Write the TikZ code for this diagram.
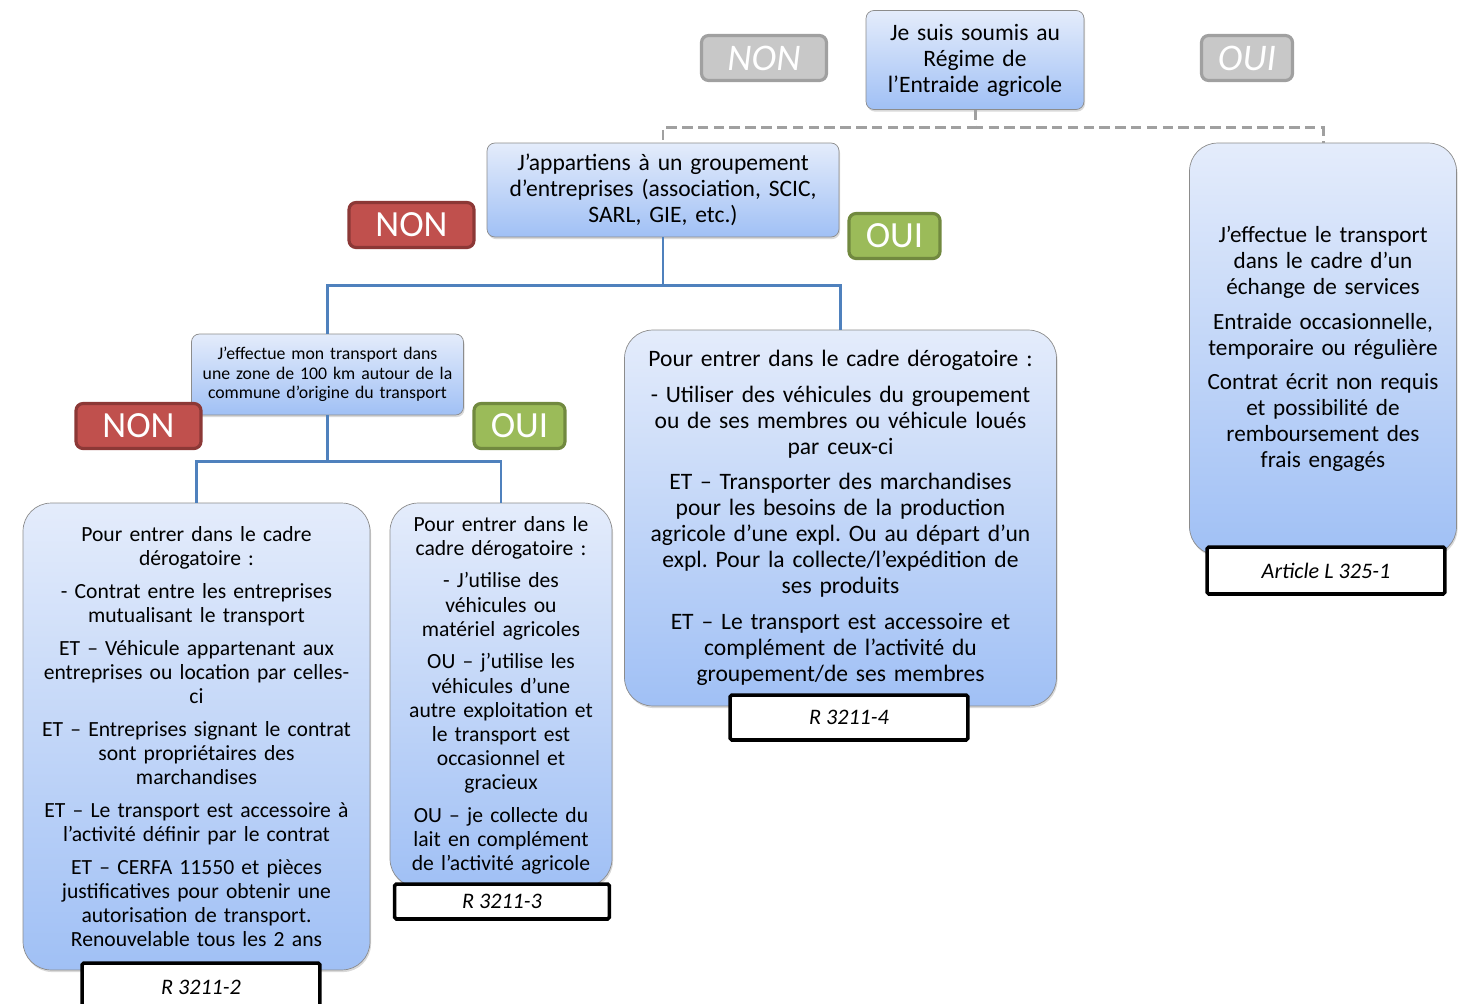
\documentclass[tikz,border=0pt]{standalone}
\usepackage{fontspec}
\setmainfont{Carlito}
\usetikzlibrary{shadows}

\definecolor{bleuhaut}{RGB}{228,236,251}
\definecolor{bleubas}{RGB}{160,192,245}
\definecolor{traitbleu}{RGB}{79,129,189}
\definecolor{rougefond}{RGB}{192,80,77}
\definecolor{rougebord}{RGB}{140,56,54}
\definecolor{vertfond}{RGB}{155,187,89}
\definecolor{vertbord}{RGB}{113,137,63}
\definecolor{grisfond}{RGB}{200,200,200}
\definecolor{grisbord}{RGB}{160,160,160}

\newcommand\grand{\fontsize{13.4}{14.8}\selectfont}
\newcommand\moyen{\fontsize{12.3}{13.7}\selectfont}
\newcommand\petit{\fontsize{10.1}{11.1}\selectfont}
\frenchspacing

\begin{document}
\begin{tikzpicture}[x=0.02cm, y=-0.02cm,
    question/.style={draw=black!45, rounded corners=4.5pt, top color=bleuhaut, bottom color=bleubas, align=center, inner sep=2pt, font=\grand,
        drop shadow={opacity=0.3, shadow xshift=0.6pt, shadow yshift=-1.2pt}},
    cadre/.style={question, rounded corners=16pt},
    reponse/.style={rounded corners=4pt, line width=1.8pt, text=white, align=center, font=\fontsize{21}{24}\selectfont, minimum height=0.9cm},
    non/.style={reponse, draw=rougebord, fill=rougefond, minimum width=2.5cm},
    oui/.style={reponse, draw=vertbord, fill=vertfond, minimum width=1.82cm},
    gris/.style={reponse, draw=grisbord, fill=grisfond, font=\fontsize{21.4}{24}\selectfont\itshape},
    article/.style={draw, line width=2pt, rounded corners=1pt, fill=white, minimum width=4.76cm, font=\fontsize{12.6}{14}\selectfont\itshape},
    lien/.style={draw=traitbleu, line width=1.7pt},
    tirets/.style={draw=grisbord, line width=1.7pt, dash pattern=on 6pt off 3pt}
]
\useasboundingbox (0,0) rectangle (1465,1004);

% questions
\node[question, minimum width=4.36cm, minimum height=1.98cm, text width=4.2cm] (regime) at (975,60)
    {Je suis soumis au\\Régime de\\l’Entraide agricole};
\node[question, minimum width=7.04cm, minimum height=1.88cm, text width=6.9cm] (groupement) at (663,190)
    {J’appartiens à un groupement\\d’entreprises (association, SCIC,\\SARL, GIE, etc.)};
\node[question, font=\petit, minimum width=5.38cm, minimum height=1.62cm, text width=5.3cm] (zone) at (327.5,374.5)
    {J’effectue mon transport dans\\une zone de 100 km autour de la\\commune d’origine du transport};

% cadres
\node[cadre, font=\moyen, minimum width=6.9cm, minimum height=9.34cm, text width=6.8cm] (mutuel) at (196.5,736.5)
    {Pour entrer dans le cadre\\dérogatoire :\\[5pt]
     - Contrat entre les entreprises\\mutualisant le transport\\[5pt]
     ET – Véhicule appartenant aux\\entreprises ou location par celles-\\ci\\[5pt]
     ET – Entreprises signant le contrat\\sont propriétaires des\\marchandises\\[5pt]
     ET – Le transport est accessoire à\\l’activité définir par le contrat\\[5pt]
     ET – CERFA 11550 et pièces\\justificatives pour obtenir une\\autorisation de transport.\\Renouvelable tous les 2 ans};
\node[cadre, font=\moyen, minimum width=4.36cm, minimum height=7.68cm, text width=4.3cm] (local) at (501,695)
    {Pour entrer dans le\\cadre dérogatoire :\\[5pt]
     - J’utilise des\\véhicules ou\\matériel agricoles\\[5pt]
     OU – j’utilise les\\véhicules d’une\\autre exploitation et\\le transport est\\occasionnel et\\gracieux\\[5pt]
     OU – je collecte du\\lait en complément\\de l’activité agricole};
\node[cadre, minimum width=8.62cm, minimum height=7.52cm, text width=8.5cm] (membres) at (840.5,518)
    {Pour entrer dans le cadre dérogatoire :\\[5.5pt]
     - Utiliser des véhicules du groupement\\ou de ses membres ou véhicule loués\\par ceux-ci\\[5.5pt]
     ET – Transporter des marchandises\\pour les besoins de la production\\agricole d’une expl. Ou au départ d’un\\expl. Pour la collecte/l’expédition de\\ses produits\\[5.5pt]
     ET – Le transport est accessoire et\\complément de l’activité du\\groupement/de ses membres};
\node[cadre, font=\fontsize{13.2}{14.8}\selectfont, minimum width=5.32cm, minimum height=8.24cm, text width=5.2cm] (entraide) at (1323,349)
    {J’effectue le transport\\dans le cadre d’un\\échange de services\\[5pt]
     Entraide occasionnelle,\\temporaire ou régulière\\[5pt]
     Contrat écrit non requis\\et possibilité de\\remboursement des\\frais engagés};

% articles
\node[article, minimum height=0.98cm] (art2) at (201,987.5) {R 3211-2};
\node[article, minimum width=4.3cm, minimum height=0.7cm] (art3) at (502,901.5) {R 3211-3};
\node[article, minimum height=0.9cm] (art4) at (849,717.5) {R 3211-4};
\node[article, minimum height=0.94cm] (art1) at (1326,570.5) {Article L 325-1};

% reponses
\node[gris, minimum width=2.5cm] (nonR) at (764,58) {NON};
\node[gris, minimum width=1.82cm] (ouiR) at (1247,58) {OUI};
\node[non] (nonG) at (411.5,225) {NON};
\node[oui] (ouiG) at (894.5,236) {OUI};
\node[non] (nonZ) at (138.5,426) {NON};
\node[oui] (ouiZ) at (519.5,426) {OUI};

% liens
\draw[tirets] (regime.south) -- ++(0,18) -| (groupement.north);
\draw[tirets] (regime.south) -- ++(0,18) -| (entraide.north);
\draw[lien] (groupement.south) -- ++(0,48) -| (zone.north);
\draw[lien] (groupement.south) -- ++(0,48) -| (membres.north);
\draw[lien] (zone.south) -- ++(0,46) -| (mutuel.north);
\draw[lien] (zone.south) -- ++(0,46) -| (local.north);
\end{tikzpicture}
\end{document}
